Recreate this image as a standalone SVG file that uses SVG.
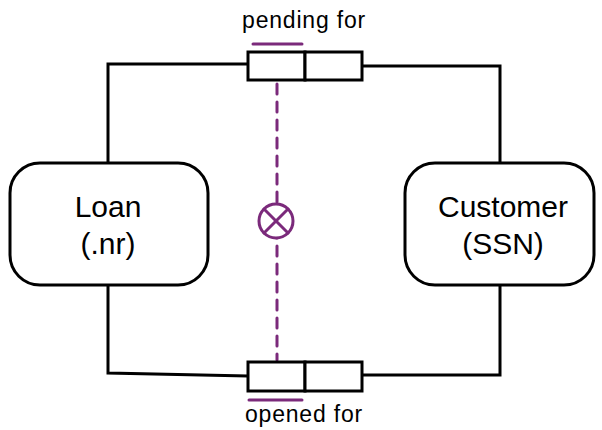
<svg xmlns="http://www.w3.org/2000/svg" width="602" height="430" viewBox="0 0 602 430">
<style>
.ln{fill:none;stroke:#000;stroke-width:3;stroke-linejoin:miter}
.box{fill:#fff;stroke:#000;stroke-width:3}
.ent{fill:#fff;stroke:#000;stroke-width:3}
.pu{fill:none;stroke:#7b2a7b;stroke-width:3;stroke-linecap:round}
.t{font-family:"Liberation Sans",Arial,sans-serif;fill:#000;text-anchor:middle}
.lbl{font-size:23px;letter-spacing:0.8px}
</style>
<rect width="602" height="430" fill="#fff"/>
<g id="connectors">
<polyline class="ln" points="248,64 108,64 108,163"/>
<polyline class="ln" points="108,285 108,373 248,376"/>
<polyline class="ln" points="362,66 500,66 500,163"/>
<polyline class="ln" points="500,285 500,375 362,375"/>
<line class="pu" x1="277" y1="84" x2="277" y2="360" stroke-dasharray="10,8"/>
</g>
<g id="loan">
<rect class="ent" x="10" y="163" width="198" height="122" rx="30"/>
<text class="t" x="108" y="217" font-size="30">Loan</text>
<text class="t" x="108" y="254" font-size="30">(.nr)</text>
</g>
<g id="customer">
<rect class="ent" x="405" y="163" width="189" height="122" rx="30"/>
<text class="t" x="503" y="217" font-size="30">Customer</text>
<text class="t" x="503" y="254" font-size="30">(SSN)</text>
</g>
<g id="pending">
<rect class="box" x="248" y="52" width="57" height="28"/>
<rect class="box" x="305" y="52" width="57" height="28"/>
<line class="pu" x1="253" y1="44" x2="302" y2="44"/>
<text class="t lbl" x="304" y="27.5">pending for</text>
</g>
<g id="opened">
<rect class="box" x="248" y="362" width="57" height="29"/>
<rect class="box" x="305" y="362" width="57" height="29"/>
<line class="pu" x1="249" y1="400" x2="302" y2="400"/>
<text class="t lbl" x="304" y="422">opened for</text>
</g>
<g id="exclusion">
<circle cx="276" cy="221" r="17" fill="#fff" stroke="#7b2a7b" stroke-width="3"/>
<line class="pu" x1="264" y1="209" x2="288" y2="233"/>
<line class="pu" x1="288" y1="209" x2="264" y2="233"/>
</g>
</svg>
